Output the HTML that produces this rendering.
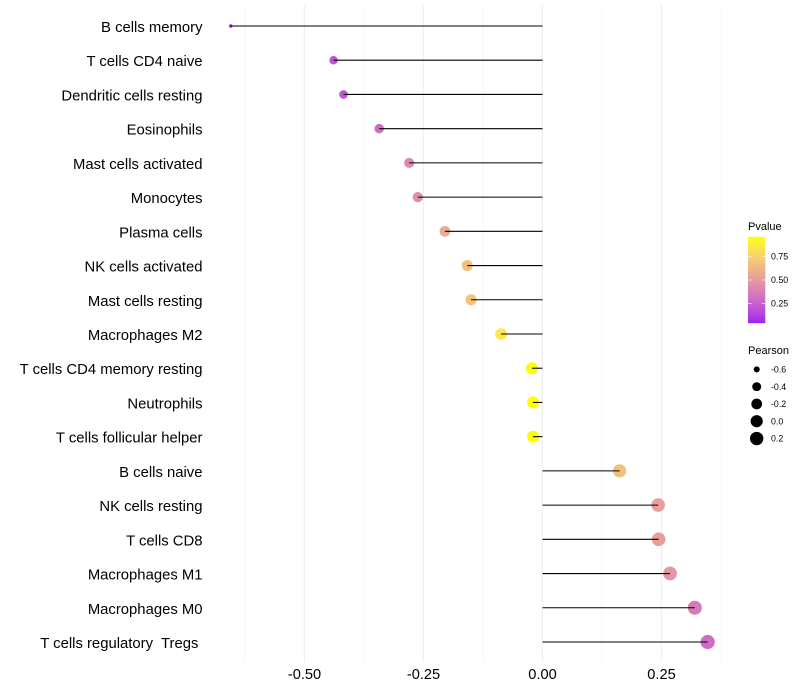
<!DOCTYPE html>
<html>
<head>
<meta charset="utf-8">
<title>Lollipop chart</title>
<style>
html,body{margin:0;padding:0;background:#fff;width:800px;height:700px;overflow:hidden}
svg{display:block;font-family:"Liberation Sans",sans-serif}
</style>
</head>
<body>
<svg id="chart" xmlns="http://www.w3.org/2000/svg" width="800" height="700" viewBox="0 0 800 700">
<rect width="800" height="700" fill="#fff"/>
<g id="grid"></g>
<g id="xticks"></g>
<g id="yticks"></g>
<g id="points"></g>
<g id="segments"></g>
<g id="legend-color"></g>
<g id="legend-size"></g>
</svg>
<script>
const categories = ["B cells memory","T cells CD4 naive","Dendritic cells resting","Eosinophils","Mast cells activated","Monocytes","Plasma cells","NK cells activated","Mast cells resting","Macrophages M2","T cells CD4 memory resting","Neutrophils","T cells follicular helper","B cells naive","NK cells resting","T cells CD8","Macrophages M1","Macrophages M0","T cells regulatory  Tregs "];
const pearson = [-0.655,-0.439,-0.418,-0.343,-0.28,-0.262,-0.205,-0.158,-0.15,-0.087,-0.022,-0.02,-0.02,0.162,0.243,0.244,0.268,0.32,0.347];
const pvalue = [0.04,0.2,0.22,0.3,0.42,0.44,0.57,0.67,0.69,0.85,0.96,0.96,0.96,0.67,0.52,0.52,0.48,0.36,0.3];
const majorTicks = [-0.5,-0.25,0,0.25];
const majorLabels = ["-0.50","-0.25","0.00","0.25"];
const minorTicks = [-0.625,-0.375,-0.125,0.125,0.375];
const legendP = [0.75,0.5,0.25];
const legendPLabels = ["0.75","0.50","0.25"];
const legendS = [-0.6,-0.4,-0.2,0,0.2];
const legendSLabels = ["-0.6","-0.4","-0.2","0.0","0.2"];

const NS = "http://www.w3.org/2000/svg";
function mk(tag, attrs, parent, text){
  const e = document.createElementNS(NS, tag);
  for (const k in attrs) e.setAttribute(k, attrs[k]);
  if (text !== undefined) e.textContent = text;
  parent.appendChild(e);
  return e;
}
const xScale = v => 542.5 + v * 476;
const yScale = i => 26 + i * 34.222;
const minS = Math.min(...pearson), maxS = Math.max(...pearson);
const rScale = v => 1.8 + 5.3 * Math.sqrt(Math.max(0, (v - minS) / (maxS - minS)));

function toLab(c){
  const f = u => { u/=255; return u>0.04045 ? Math.pow((u+0.055)/1.055,2.4) : u/12.92; };
  const r=f(c[0]),g=f(c[1]),b=f(c[2]);
  const X=(0.4124*r+0.3576*g+0.1805*b)/0.95047, Y=0.2126*r+0.7152*g+0.0722*b, Z=(0.0193*r+0.1192*g+0.9505*b)/1.08883;
  const h = t => t>0.008856 ? Math.cbrt(t) : 7.787*t+16/116;
  return [116*h(Y)-16, 500*(h(X)-h(Y)), 200*(h(Y)-h(Z))];
}
function fromLab(l){
  const fy=(l[0]+16)/116, fx=fy+l[1]/500, fz=fy-l[2]/200;
  const h = t => t*t*t>0.008856 ? t*t*t : (t-16/116)/7.787;
  const X=h(fx)*0.95047,Y=h(fy),Z=h(fz)*1.08883;
  const lin=[3.2406*X-1.5372*Y-0.4986*Z,-0.9689*X+1.8758*Y+0.0415*Z,0.0557*X-0.204*Y+1.057*Z];
  const out=lin.map(u=>{u=Math.max(0,Math.min(1,u));u=u>0.0031308?1.055*Math.pow(u,1/2.4)-0.055:12.92*u;return Math.round(u*255);});
  return "rgb("+out.join(",")+")";
}
const labLow = toLab([160,32,240]), labHigh = toLab([255,255,0]);
const pMin = 0.04, pMax = 0.96;
function colorScale(p){
  const t = Math.max(0, Math.min(1, (p - pMin) / (pMax - pMin)));
  return fromLab(labLow.map((a,i)=>a+(labHigh[i]-a)*t));
}

const grid = document.getElementById("grid");
minorTicks.forEach(v => {
  const l = mk("line",{x1:xScale(v),x2:xScale(v),y1:5,y2:662,stroke:"#f1f1f1","stroke-width":0.55},grid);
  
  
});
majorTicks.forEach(v => {
  const l = mk("line",{x1:xScale(v)-0.2,x2:xScale(v)-0.2,y1:5,y2:662,stroke:"#eeeeee","stroke-width":1.07},grid);
  
  
});

const xt = document.getElementById("xticks");
majorTicks.forEach((v,i) => {
  const t = mk("text",{x:xScale(v),y:679,"text-anchor":"middle","font-size":14.6,fill:"#000"},xt,majorLabels[i]);
  
  
});

const yt = document.getElementById("yticks");
categories.forEach((c,i) => {
  const t = mk("text",{x:202.5,y:yScale(i)+6,"text-anchor":"end","font-size":14.85,fill:"#000"},yt,c);
  t.setAttribute('xml:space', 'preserve');
  t.style.whiteSpace = 'pre';
  
  
});

const pts = document.getElementById("points");
const segs = document.getElementById("segments");
pearson.forEach((v,i) => {
  const c = mk("circle",{cx:xScale(v),cy:yScale(i),r:rScale(v),fill:colorScale(pvalue[i])},pts);
  
  
  const s = mk("line",{x1:xScale(0),x2:xScale(v),y1:yScale(i),y2:yScale(i),stroke:"#000","stroke-width":1.07},segs);
  
  
});

const lc = document.getElementById("legend-color");
const lcTitle = mk("text",{x:748,y:230,"font-size":11,fill:"#000"},lc,"Pvalue");


const defs = mk("defs",{},lc);
const grad = mk("linearGradient",{id:"pgrad",x1:0,y1:1,x2:0,y2:0},defs);
for (let k=0;k<=20;k++){
  mk("stop",{offset:k/20,"stop-color":colorScale(pMin+(pMax-pMin)*k/20)},grad);
}
const barTop = 236.8, barBottom = 323.2, barLeft = 748, barRight = 765.3;
const pY = p => barBottom - (p - pMin) / (pMax - pMin) * (barBottom - barTop);
const bar = mk("rect",{x:barLeft,y:barTop,width:barRight-barLeft,height:barBottom-barTop,fill:"url(#pgrad)"},lc);


legendP.forEach((p,i) => {
  const y = pY(p);
  mk("line",{x1:barLeft,x2:barLeft+3.5,y1:y,y2:y,stroke:"#fff","stroke-width":0.6},lc);
  mk("line",{x1:barRight-3.5,x2:barRight,y1:y,y2:y,stroke:"#fff","stroke-width":0.6},lc);
  const t = mk("text",{x:771,y:y+3.2,"font-size":8.8,fill:"#000"},lc,legendPLabels[i]);
  
  
});

const ls = document.getElementById("legend-size");
const lsTitle = mk("text",{x:748,y:354,"font-size":11,fill:"#000"},ls,"Pearson");


legendS.forEach((v,i) => {
  const y = 369.4 + i * 17.28;
  const c = mk("circle",{cx:756.7,cy:y,r:rScale(v),fill:"#000"},ls);
  
  
  const t = mk("text",{x:771,y:y+3.2,"font-size":8.8,fill:"#000"},ls,legendSLabels[i]);
  
  
});
</script>
</body>
</html>
